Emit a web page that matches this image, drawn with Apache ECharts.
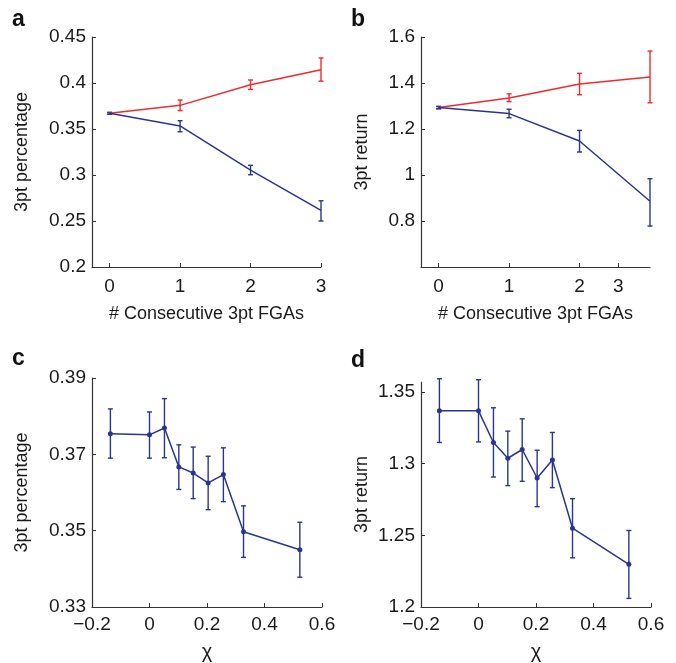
<!DOCTYPE html>
<html>
<head>
<meta charset="utf-8">
<script src="https://cdn.jsdelivr.net/npm/echarts@6/dist/echarts.min.js"></script>
<style>
html, body { margin: 0; padding: 0; background: #fff; }
#chart { width: 676px; height: 663px; }
</style>
</head>
<body>
<div id="chart"></div>
<script>
// panels a, b: number of consecutive 3pt attempts
var consec = [0, 1, 2, 3];
var aMadeMean = [0.367, 0.3757, 0.398, 0.4145];
var aMadeLow = [0.366, 0.370, 0.393, 0.402];
var aMadeHigh = [0.368, 0.3815, 0.4033, 0.4272];
var aMissMean = [0.367, 0.3533, 0.3054, 0.2616];
var aMissLow = [0.366, 0.347, 0.3003, 0.250];
var aMissHigh = [0.368, 0.359, 0.3105, 0.272];

var bMadeMean = [1.293, 1.335, 1.396, 1.426];
var bMadeLow = [1.288, 1.319, 1.349, 1.314];
var bMadeHigh = [1.298, 1.353, 1.442, 1.539];
var bMissMean = [1.293, 1.267, 1.148, 0.886];
var bMissLow = [1.288, 1.249, 1.100, 0.778];
var bMissHigh = [1.298, 1.286, 1.194, 0.984];

// panels c, d: chi
var chi = [-0.136, 0, 0.052, 0.102, 0.152, 0.204, 0.257, 0.327, 0.523];
var cMean = [0.3754, 0.3751, 0.3769, 0.3667, 0.3651, 0.3625, 0.3647, 0.3497, 0.345];
var cLow = [0.369, 0.369, 0.3691, 0.3608, 0.3584, 0.3555, 0.3576, 0.343, 0.3378];
var cHigh = [0.3819, 0.3811, 0.3846, 0.3725, 0.3719, 0.3695, 0.3717, 0.3565, 0.3522];
var dMean = [1.3369, 1.3369, 1.3148, 1.3038, 1.3099, 1.29, 1.3026, 1.255, 1.2298];
var dLow = [1.3148, 1.3152, 1.2907, 1.2847, 1.2877, 1.27, 1.2833, 1.2343, 1.206];
var dHigh = [1.3593, 1.3586, 1.339, 1.3227, 1.3313, 1.3094, 1.3218, 1.2756, 1.2534];

// tick labels
var abXTicks = [0, 1, 2, 3];
var bXTickPos = [0, 1, 2, 2.55];
var bXTickText = ['0', '1', '2', '3'];
var dYTicks = [1.2, 1.25, 1.3, 1.35];

var RED = '#ee2b2f';
var BLUE = '#2a3590';
var FONT = 'Liberation Sans';
var AXIS_COLOR = '#333';

function zip(xs, ys) {
    var out = [];
    for (var i = 0; i < xs.length; i++) out.push([xs[i], ys[i]]);
    return out;
}
function zip3(xs, lo, hi) {
    var out = [];
    for (var i = 0; i < xs.length; i++) out.push([xs[i], lo[i], hi[i]]);
    return out;
}

function errorBars(idx, xs, lo, hi, color) {
    return {
        type: 'custom',
        xAxisIndex: idx,
        yAxisIndex: idx,
        data: zip3(xs, lo, hi),
        encode: { x: 0, y: [1, 2] },
        z: 3,
        renderItem: function (params, api) {
            var p1 = api.coord([api.value(0), api.value(1)]);
            var p2 = api.coord([api.value(0), api.value(2)]);
            var w = 2.5;
            var st = { stroke: color, lineWidth: 1.4 };
            return {
                type: 'group',
                children: [
                    { type: 'line', shape: { x1: p1[0], y1: p1[1], x2: p2[0], y2: p2[1] }, style: st },
                    { type: 'line', shape: { x1: p1[0] - w, y1: p1[1], x2: p1[0] + w, y2: p1[1] }, style: st },
                    { type: 'line', shape: { x1: p2[0] - w, y1: p2[1], x2: p2[0] + w, y2: p2[1] }, style: st }
                ]
            };
        }
    };
}

function lineSeries(idx, xs, ys, color, dots) {
    return {
        type: 'line',
        xAxisIndex: idx,
        yAxisIndex: idx,
        data: zip(xs, ys),
        showSymbol: !!dots,
        symbol: 'circle',
        symbolSize: 5,
        itemStyle: { color: color },
        lineStyle: { color: color, width: 1.5 },
        z: 4,
        silent: true,
        animation: false
    };
}

function baseAxis(extra) {
    var ax = {
        type: 'value',
        gridIndex: 0,
        splitLine: { show: false },
        axisLine: { show: true, onZero: false, lineStyle: { color: AXIS_COLOR, width: 1.2 } },
        axisTick: { show: true, inside: true, length: 4, lineStyle: { color: AXIS_COLOR } },
        axisLabel: { color: '#1a1a1a', fontFamily: FONT, fontSize: 19 },
        nameTextStyle: { color: '#1a1a1a', fontFamily: FONT, fontSize: 18 },
        nameLocation: 'middle'
    };
    for (var k in extra) {
        if (typeof extra[k] === 'object' && ax[k] && !Array.isArray(extra[k])) {
            for (var j in extra[k]) ax[k][j] = extra[k][j];
        } else {
            ax[k] = extra[k];
        }
    }
    return ax;
}

function minusFmt(v) {
    return String(v).replace('-', '\u2212');
}

var dom = document.getElementById('chart');
var myChart = echarts.init(dom, null, { renderer: 'canvas' });

var option = {
    animation: false,
    backgroundColor: '#fff',
    grid: [
        { left: 92, top: 37, width: 229, height: 230 },
        { left: 421, top: 37, width: 229, height: 230 },
        { left: 92, top: 378, width: 230, height: 229 },
        { left: 421, top: 382, width: 230, height: 225 }
    ],
    xAxis: [
        baseAxis({
            gridIndex: 0, min: -0.25, max: 3,
            name: '# Consecutive 3pt FGAs', nameGap: 38,
            axisTick: { customValues: abXTicks },
            axisLabel: { customValues: abXTicks, margin: 10 }
        }),
        baseAxis({
            gridIndex: 1, min: -0.25, max: 3,
            name: '# Consecutive 3pt FGAs', nameGap: 38,
            axisTick: { customValues: bXTickPos },
            axisLabel: {
                customValues: bXTickPos, margin: 10,
                formatter: function (v) { return bXTickText[bXTickPos.indexOf(v)]; }
            }
        }),
        baseAxis({
            gridIndex: 2, min: -0.2, max: 0.6, interval: 0.2,
            name: '\u03c7', nameGap: 35,
            nameTextStyle: { fontSize: 20 },
            axisLabel: { margin: 8, formatter: minusFmt }
        }),
        baseAxis({
            gridIndex: 3, min: -0.2, max: 0.6, interval: 0.2,
            name: '\u03c7', nameGap: 35,
            nameTextStyle: { fontSize: 20 },
            axisLabel: { margin: 8, formatter: minusFmt }
        })
    ],
    yAxis: [
        baseAxis({
            gridIndex: 0, min: 0.2, max: 0.45, interval: 0.05,
            name: '3pt percentage', nameGap: 61,
            axisLabel: { margin: 6 }
        }),
        baseAxis({
            gridIndex: 1, min: 0.6, max: 1.6, interval: 0.2,
            name: '3pt return', nameGap: 50,
            axisLabel: { margin: 6, showMinLabel: false }
        }),
        baseAxis({
            gridIndex: 2, min: 0.33, max: 0.39, interval: 0.02,
            name: '3pt percentage', nameGap: 61,
            axisLabel: { margin: 6 }
        }),
        baseAxis({
            gridIndex: 3, min: 1.2, max: 1.357,
            name: '3pt return', nameGap: 50,
            axisTick: { customValues: dYTicks },
            axisLabel: { margin: 6, customValues: dYTicks }
        })
    ],
    series: [
        lineSeries(0, consec, aMadeMean, RED),
        errorBars(0, consec, aMadeLow, aMadeHigh, RED),
        lineSeries(0, consec, aMissMean, BLUE),
        errorBars(0, consec, aMissLow, aMissHigh, BLUE),
        lineSeries(1, consec, bMadeMean, RED),
        errorBars(1, consec, bMadeLow, bMadeHigh, RED),
        lineSeries(1, consec, bMissMean, BLUE),
        errorBars(1, consec, bMissLow, bMissHigh, BLUE),
        lineSeries(2, chi, cMean, BLUE, true),
        errorBars(2, chi, cLow, cHigh, BLUE),
        lineSeries(3, chi, dMean, BLUE, true),
        errorBars(3, chi, dLow, dHigh, BLUE)
    ],
    graphic: [
        { type: 'text', left: 12, top: 8, style: { text: 'a', font: 'bold 23px ' + FONT, fill: '#111' } },
        { type: 'text', left: 351, top: 8, style: { text: 'b', font: 'bold 23px ' + FONT, fill: '#111' } },
        { type: 'text', left: 12, top: 347, style: { text: 'c', font: 'bold 23px ' + FONT, fill: '#111' } },
        { type: 'text', left: 351, top: 349, style: { text: 'd', font: 'bold 23px ' + FONT, fill: '#111' } }
    ]
};

myChart.setOption(option);
window.addEventListener('resize', function () {
    myChart.resize();
});
</script>
</body>
</html>
